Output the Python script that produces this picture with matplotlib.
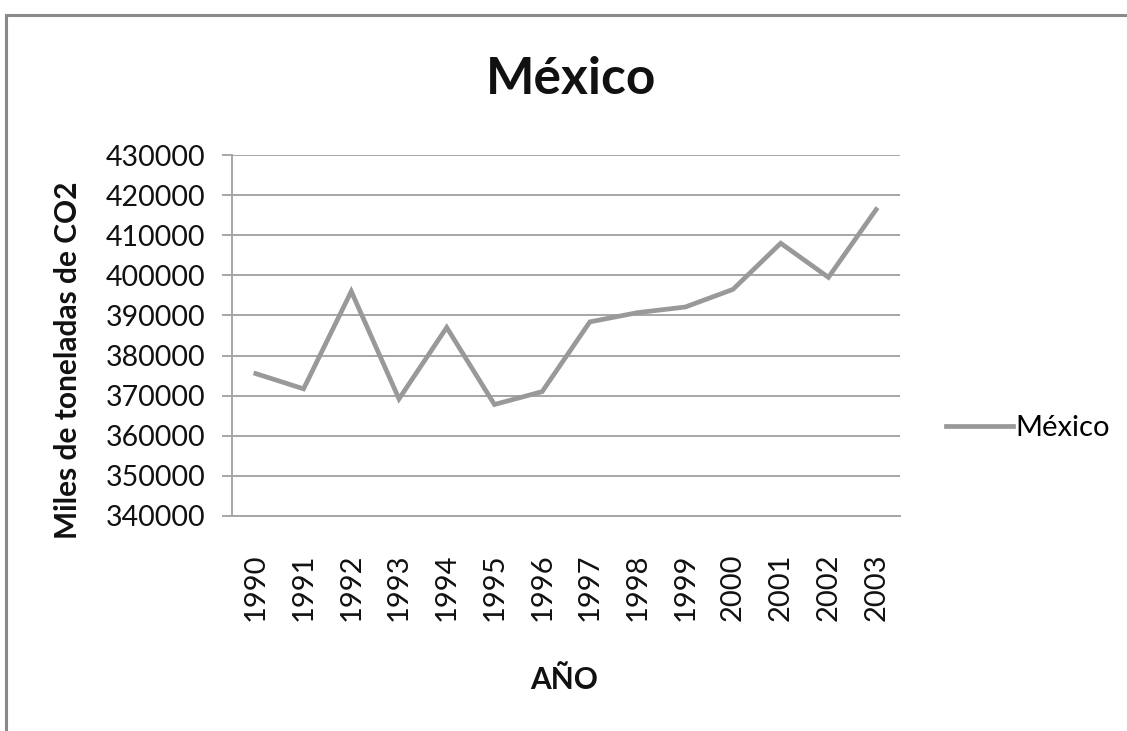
import matplotlib.pyplot as plt
from matplotlib.patches import Rectangle

years = ['1990', '1991', '1992', '1993', '1994', '1995', '1996',
         '1997', '1998', '1999', '2000', '2001', '2002', '2003']
emisiones = [375500, 371700, 396000, 369200, 387000, 367800, 371000,
             388400, 390700, 392100, 396500, 408000, 399500, 416400]
y_ticks = list(range(340000, 430001, 10000))

plt.rcParams['font.family'] = ['Lato', 'DejaVu Sans']

fig = plt.figure(figsize=(11.27, 7.31), dpi=100)
W, H = 1127, 731
# area del grafico en pixeles (izq, arriba, der, abajo)
x0, y0, x1, y1 = 232, 155, 900, 516
ax = fig.add_axes([x0 / W, 1 - y1 / H, (x1 - x0) / W, (y1 - y0) / H])

# marco exterior del grafico
fig.patches.append(Rectangle((6 / W, -0.1), 1.2, 1 - 15 / H + 0.1,
                             transform=fig.transFigure, fill=False,
                             edgecolor='#8a8a8a', linewidth=2.2))

x = list(range(len(years)))
ax.plot(x, emisiones, color='#999999', linewidth=3.4,
        solid_joinstyle='miter', label='México')

ax.set_xlim(-0.5, len(years) - 0.5)
ax.set_ylim(y_ticks[0], y_ticks[-1])
ax.set_yticks(y_ticks)
ax.set_yticklabels([str(v) for v in y_ticks])
ax.set_xticks(x)
ax.set_xticklabels(years, rotation=90)
ax.grid(axis='y', color='#a6a6a6', linewidth=1.4)
ax.set_axisbelow(True)

for side in ['top', 'right']:
    ax.spines[side].set_visible(False)
for side in ['left', 'bottom']:
    ax.spines[side].set_color('#a6a6a6')
    ax.spines[side].set_linewidth(1.4)

ax.tick_params(axis='y', length=7, width=1.4, color='#a6a6a6',
               labelsize=20.5, pad=12, labelcolor='#111111')
ax.tick_params(axis='x', length=0, labelsize=21, pad=27, labelcolor='#111111')

fig.text(571 / W, 1 - 80 / H, 'México', ha='center', va='center',
         fontsize=37, fontweight='bold', color='#111111')
fig.text(68 / W, 1 - 360 / H, 'Miles de toneladas de CO2', ha='center',
         va='center', rotation=90, fontsize=21.5, fontweight='bold', color='#111111')
fig.text(564 / W, 1 - 680 / H, 'AÑO', ha='center', va='center',
         fontsize=21.5, fontweight='bold', color='#111111')

ax.legend(loc='center left', bbox_to_anchor=(934 / W, 1 - 428 / H),
          bbox_transform=fig.transFigure, frameon=False, fontsize=21,
          handlelength=2.3, handletextpad=0.1, borderaxespad=0)

fig.savefig('out.png', dpi=100, facecolor='white')
